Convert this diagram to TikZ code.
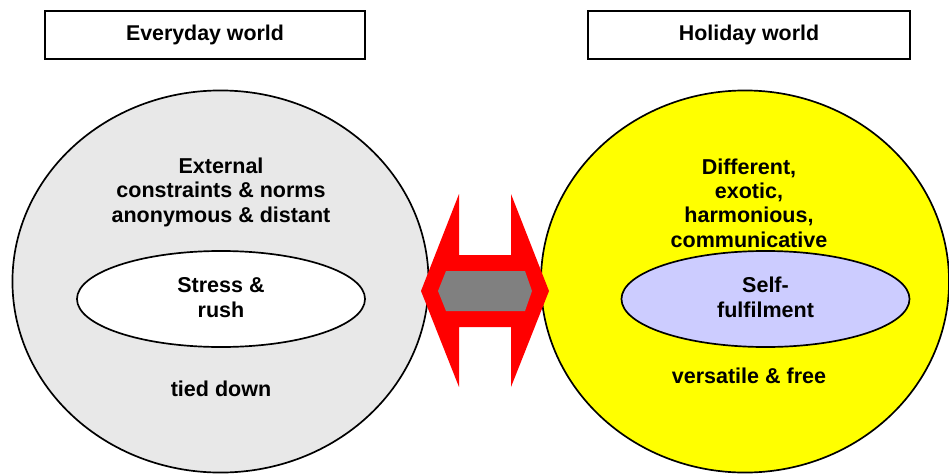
\documentclass[tikz,border=0pt]{standalone}
\usepackage{fontspec}
\setmainfont{Liberation Sans}
\usetikzlibrary{shapes.geometric}
\definecolor{paleworld}{HTML}{E8E8E8}
\definecolor{lavender}{HTML}{CCCCFF}
\definecolor{sunny}{HTML}{FFFF00}

\begin{document}
\begin{tikzpicture}[x=0.025cm, y=-0.025cm,
    titlebox/.style={draw, line width=1.2pt, minimum width=8cm, minimum height=1.2cm,
        font=\bfseries\fontsize{15.2}{17}\selectfont},
    world/.style={draw, ellipse, line width=1.2pt, minimum height=9.55cm},
    core/.style={draw, ellipse, line width=1.2pt, minimum width=7.2cm, minimum height=2.4cm},
    txt/.style={align=center, anchor=base, font=\bfseries\fontsize{15.3}{17.2}\selectfont}]
    \useasboundingbox (0,0) rectangle (949,474);
    % titres
    \node[titlebox] (everyday) at (205,35) {Everyday world};
    \node[titlebox, minimum width=8.05cm] (holiday) at (749,35) {Holiday world};
    % les deux mondes
    \node[world, fill=paleworld, minimum width=10.4cm] (daily) at (220.5,281.5) {};
    \node[world, fill=sunny, minimum width=10.2cm] (away) at (745,281.5) {};
    \node[core, fill=white] (stress) at (221,299) {};
    \node[core, fill=lavender] (self) at (765.5,299) {};
    % double flèche
    \fill[red] (421,291) -- (459,194) -- (459,255) -- (511,255) -- (511,194) -- (549,291)
        -- (511,387) -- (511,327) -- (459,327) -- (459,387) -- cycle;
    \fill[gray] (438,291) -- (446,271) -- (525,271) -- (532,291) -- (525,311) -- (446,311) -- cycle;
    % textes (base = dernière ligne)
    \node[txt] (norms) at (221,222) {External\\constraints \& norms\\anonymous \& distant};
    \node[txt] (rush) at (221,317) {Stress \&\\rush};
    \node[txt] (tied) at (221,396) {tied down};
    \node[txt] (exotic) at (749,247) {Different,\\exotic,\\harmonious,\\communicative};
    \node[txt] (fulfil) at (765.5,317) {Self-\\fulfilment};
    \node[txt] (free) at (749,383) {versatile \& free};
\end{tikzpicture}
\end{document}
